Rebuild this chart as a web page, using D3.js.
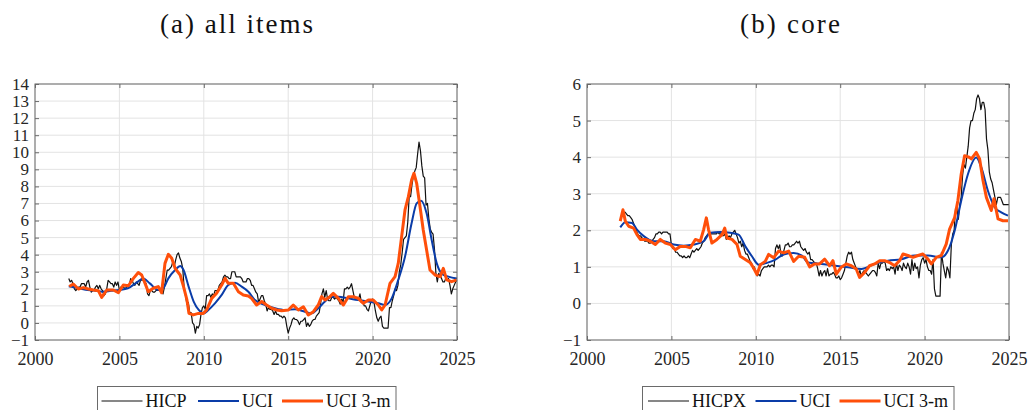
<!DOCTYPE html>
<html><head><meta charset="utf-8">
<script src="https://cdn.jsdelivr.net/npm/d3@7"></script>
<style>html,body{margin:0;padding:0;background:#fff;}svg{display:block;}
svg text{font-family:"Liberation Serif","DejaVu Serif","Times New Roman",serif !important;}</style>
</head><body><svg id="c" width="1028" height="410"></svg>
<script>
// ---------- DATA ----------
const xTicks = [2000, 2005, 2010, 2015, 2020, 2025];
const yTicksA = [-1,0,1,2,3,4,5,6,7,8,9,10,11,12,13,14];
const yTicksB = [-1,0,1,2,3,4,5,6];
const titleA = "(a) all items", titleB = "(b) core";
const legendA = ["HICP", "UCI", "UCI 3-m"];
const legendB = ["HICPX", "UCI", "UCI 3-m"];

// headline HICP, monthly, from Jan 2002
const hicpStart = 2002;
const hicp = [
 2.6,2.4,2.5,2.3,2.0,1.9,2.0,2.1,2.1,2.3,2.3,2.3,
 2.1,2.4,2.5,2.1,1.8,1.9,1.9,2.1,2.2,2.0,2.2,2.0,
 1.9,1.6,1.7,2.0,2.5,2.4,2.3,2.3,2.1,2.4,2.2,2.4,
 1.9,2.1,2.1,2.1,2.0,2.1,2.2,2.2,2.6,2.5,2.3,2.2,
 2.4,2.3,2.2,2.5,2.5,2.5,2.4,2.3,1.7,1.6,1.9,1.9,
 1.8,1.8,1.9,1.9,1.9,1.9,1.8,1.7,2.1,2.6,3.1,3.1,
 3.2,3.3,3.6,3.3,3.7,4.0,4.1,3.8,3.6,3.2,2.1,1.6,
 1.1,1.2,0.6,0.6,0.0,-0.1,-0.6,-0.2,-0.3,-0.1,0.5,0.9,
 1.0,0.8,1.6,1.6,1.7,1.5,1.7,1.6,1.9,1.9,1.9,2.2,
 2.3,2.4,2.7,2.8,2.7,2.7,2.6,2.6,3.0,3.0,3.0,2.7,
 2.7,2.7,2.7,2.6,2.4,2.4,2.4,2.6,2.6,2.5,2.2,2.2,
 2.0,1.8,1.7,1.2,1.4,1.6,1.6,1.3,1.1,0.7,0.9,0.8,
 0.8,0.7,0.5,0.7,0.5,0.5,0.4,0.4,0.3,0.4,0.3,-0.2,
 -0.6,-0.3,-0.1,0.2,0.3,0.2,0.2,0.1,-0.1,0.1,0.1,0.2,
 0.3,-0.2,0.0,-0.2,-0.1,0.1,0.2,0.2,0.4,0.5,0.6,1.1,
 1.7,2.0,1.5,1.9,1.4,1.3,1.3,1.5,1.5,1.4,1.5,1.4,
 1.3,1.1,1.4,1.2,2.0,2.0,2.1,2.0,2.1,2.3,1.9,1.5,
 1.4,1.5,1.4,1.7,1.2,1.3,1.0,1.0,0.8,0.7,1.0,1.3,
 1.4,1.2,0.7,0.3,0.1,0.3,0.4,-0.2,-0.3,-0.3,-0.3,-0.3,
 0.9,0.9,1.3,1.6,2.0,1.9,2.2,3.0,3.4,4.1,4.9,5.0,
 5.1,5.9,7.4,7.4,8.1,8.6,8.9,9.1,9.9,10.6,10.1,9.2,
 8.6,8.5,6.9,7.0,6.1,5.5,5.3,5.2,4.3,2.9,2.4,2.9,
 2.8,2.6,2.4,2.4,2.6,2.5,2.6,2.2,1.7,2.0,2.2,2.4,
 2.5
];

// UCI (all items)
const uciAYears = [2002.0,2002.5,2003.0,2003.5,2004.0,2004.5,2005.0,2005.5,2006.1,2006.4,2006.8,2007.3,2007.6,2007.9,2008.3,2008.6,2008.8,2009.1,2009.4,2009.7,2010.0,2010.27,2010.66,2011.06,2011.45,2011.85,2012.24,2012.64,2013.03,2013.62,2014.22,2014.81,2015.4,2015.99,2016.39,2016.78,2017.18,2017.57,2017.97,2018.56,2019.15,2019.75,2020.34,2020.74,2021.13,2021.52,2021.92,2022.31,2022.61,2022.87,2023.2,2023.5,2023.8,2024.09,2024.49,2025.0];
const uciAValues = [2.15,2.05,1.95,1.9,1.83,1.88,1.93,2.03,2.42,2.61,2.32,1.93,2.03,2.61,3.1,3.34,3.1,2.13,1.25,0.76,0.56,0.76,1.15,1.64,2.22,2.36,2.13,1.83,1.34,1.05,0.86,0.76,0.8,0.66,0.56,0.86,1.25,1.54,1.54,1.44,1.34,1.25,1.15,1.05,1.44,2.52,3.88,5.84,7.01,7.16,6.42,4.86,3.49,2.9,2.71,2.61];

// UCI 3-m (all items)
const uci3AYears = [2002.03,2002.27,2002.57,2002.86,2003.16,2003.46,2003.75,2003.95,2004.25,2004.64,2004.94,2005.23,2005.53,2005.83,2006.12,2006.32,2006.52,2006.71,2007.0,2007.3,2007.5,2007.7,2007.9,2008.1,2008.3,2008.6,2008.8,2009.0,2009.12,2009.38,2009.68,2009.97,2010.17,2010.47,2010.76,2011.06,2011.26,2011.45,2011.75,2012.05,2012.34,2012.64,2012.83,2013.13,2013.43,2013.72,2014.02,2014.32,2014.61,2015.01,2015.3,2015.6,2015.9,2016.19,2016.49,2016.78,2016.98,2017.18,2017.47,2017.67,2017.97,2018.27,2018.56,2018.86,2019.15,2019.45,2019.75,2020.04,2020.34,2020.54,2020.74,2021.03,2021.33,2021.52,2021.72,2021.92,2022.12,2022.31,2022.45,2022.61,2022.81,2023.0,2023.2,2023.4,2023.7,2024.0,2024.19,2024.39,2024.68,2024.98];
const uci3AValues = [2.13,2.28,1.99,2.07,1.99,1.93,1.89,1.5,1.93,1.93,1.77,2.22,2.18,2.61,2.95,2.81,2.32,1.83,2.03,2.13,1.77,3.49,4.02,3.79,3.2,2.81,2.13,1.35,0.56,0.47,0.56,0.56,0.76,1.44,1.74,2.22,2.61,2.32,2.32,1.83,1.64,1.58,1.44,1.05,1.25,1.05,0.86,0.76,0.72,0.76,1.05,0.76,0.95,0.47,0.66,1.05,1.54,1.34,1.54,1.73,1.44,1.05,1.54,1.54,1.44,1.15,1.34,1.34,1.05,0.76,1.05,2.32,2.71,3.49,5.06,6.62,7.4,8.38,8.77,8.18,6.81,5.45,4.27,3.1,2.81,2.71,3.2,2.52,2.42,2.52];

// core HICPX, monthly, from Mar 2002
const hicpxStart = 2002 + 2/12;
const hicpx = [
 2.5,2.5,2.45,2.4,2.4,2.35,2.3,2.2,2.1,2.0,
 1.9,1.85,1.85,1.8,1.75,1.7,1.7,1.7,1.65,1.65,1.7,1.75,
 1.8,1.9,1.9,1.95,1.95,1.9,1.95,1.95,1.95,1.95,1.9,1.9,
 1.6,1.5,1.5,1.4,1.4,1.35,1.3,1.3,1.25,1.3,1.25,1.25,
 1.3,1.25,1.35,1.45,1.4,1.45,1.5,1.45,1.5,1.55,1.65,1.7,
 1.8,1.85,1.9,1.9,1.9,1.9,1.9,1.9,1.9,1.95,1.9,1.9,
 1.85,1.85,1.9,1.75,1.8,1.85,1.8,1.9,1.95,2.0,1.9,1.8,
 1.65,1.7,1.55,1.65,1.45,1.35,1.35,1.25,1.15,1.1,0.95,1.0,
 0.85,0.75,0.8,0.75,0.9,0.95,1.0,1.0,1.0,1.05,1.0,1.05,
 1.05,1.0,1.5,1.6,1.5,1.6,1.3,1.3,1.45,1.6,1.6,1.65,
 1.55,1.55,1.6,1.6,1.65,1.7,1.65,1.7,1.55,1.5,1.45,1.5,
 1.4,1.35,1.4,1.2,1.2,1.15,1.1,1.1,0.95,0.75,0.9,0.75,
 0.85,0.9,0.75,0.95,0.75,0.8,0.8,0.85,0.8,0.7,0.7,0.75,
 0.65,0.7,0.8,0.9,1.1,1.3,1.4,1.35,1.4,1.2,1.1,1.0,
 0.9,0.8,0.9,0.75,0.85,0.9,0.85,0.8,0.75,0.8,0.85,0.9,
 0.9,0.85,0.75,1.1,0.95,1.1,1.1,1.15,1.1,0.9,0.95,0.9,
 1.0,0.95,1.0,0.8,1.1,0.9,1.05,1.0,0.9,1.1,1.0,0.95,
 1.1,1.0,0.8,1.2,0.9,1.1,0.95,1.0,0.7,1.05,1.2,1.25,
 1.1,1.2,1.0,0.9,0.9,0.8,1.2,0.4,0.2,0.2,0.2,0.2,
 1.4,1.1,0.9,0.7,1.0,0.9,0.7,1.6,1.9,2.0,2.6,2.6,
 2.3,2.7,2.9,3.5,3.8,3.7,4.0,4.3,4.8,5.0,5.0,5.2,
 5.3,5.6,5.7,5.6,5.3,5.5,5.5,5.3,4.5,4.2,3.6,3.4,
 3.3,3.1,2.9,2.7,2.9,2.9,2.9,2.8,2.7,2.7,2.7,2.7,
 2.7
];

// UCI (core)
const uciBYears = [2001.97,2002.27,2002.67,2002.96,2003.36,2003.95,2004.54,2005.13,2005.73,2006.32,2006.91,2007.3,2007.9,2008.49,2008.98,2009.38,2009.77,2010.17,2010.66,2011.16,2011.65,2012.24,2012.73,2013.09,2013.88,2014.67,2015.46,2016.25,2017.04,2017.83,2018.62,2019.41,2020.2,2020.99,2021.38,2021.78,2022.17,2022.57,2023.06,2023.36,2023.75,2024.15,2024.54,2024.94];
const uciBValues = [2.08,2.22,2.2,2.02,1.84,1.7,1.7,1.61,1.58,1.61,1.7,1.93,1.95,1.93,1.88,1.56,1.29,1.06,1.11,1.2,1.34,1.38,1.31,1.12,1.08,1.03,0.99,0.94,1.08,1.17,1.21,1.31,1.31,1.26,1.44,1.99,2.81,3.54,3.99,3.72,3.08,2.63,2.49,2.4];

// UCI 3-m (core)
const uci3BYears = [2001.97,2002.13,2002.27,2002.47,2002.76,2002.96,2003.16,2003.46,2003.75,2004.05,2004.34,2004.64,2004.94,2005.23,2005.53,2005.83,2006.12,2006.42,2006.71,2006.91,2007.07,2007.2,2007.4,2007.7,2008.0,2008.16,2008.29,2008.59,2008.89,2009.08,2009.38,2009.68,2009.87,2010.07,2010.27,2010.56,2010.76,2011.06,2011.35,2011.65,2011.95,2012.24,2012.54,2012.9,2013.19,2013.48,2013.78,2014.08,2014.37,2014.57,2014.77,2015.06,2015.36,2015.66,2015.95,2016.15,2016.45,2016.74,2017.04,2017.34,2017.63,2017.93,2018.22,2018.52,2018.72,2019.01,2019.31,2019.61,2019.9,2020.2,2020.4,2020.69,2020.99,2021.28,2021.48,2021.78,2021.97,2022.17,2022.37,2022.67,2022.77,2023.06,2023.26,2023.46,2023.66,2023.95,2024.11,2024.35,2024.64,2024.94];
const uci3BValues = [2.25,2.56,2.25,2.11,2.06,1.88,1.75,1.75,1.7,1.61,1.75,1.65,1.61,1.47,1.56,1.56,1.52,1.75,1.7,2.02,2.34,2.02,1.65,1.75,1.88,2.06,1.79,1.75,1.61,1.29,1.2,1.11,0.97,0.79,1.06,1.15,1.34,1.25,1.43,1.38,1.43,1.15,1.29,1.26,1.0,1.08,1.08,1.21,1.03,1.17,0.8,0.99,1.08,1.03,0.94,0.71,0.85,1.03,1.08,1.17,1.17,1.12,1.03,1.17,1.35,1.31,1.26,1.31,1.35,1.21,1.08,1.26,1.31,1.62,2.03,2.35,2.81,3.54,4.04,3.99,3.95,4.13,3.95,3.36,2.9,2.54,2.86,2.31,2.26,2.26];

// ---------- DRAW ----------
const svg = d3.select("#c");
const FONT = '"Liberation Serif", "DejaVu Serif", serif';
const C_BLACK = "#111", C_BLUE = "#0a3ca8", C_ORANGE = "#ff4f0a";

function panel(opt) {
  const x = d3.scaleLinear().domain([2000, 2025]).range([opt.left, opt.right]);
  const y = d3.scaleLinear().domain(opt.yDomain).range([opt.bottom, opt.top]);
  const g = svg.append("g");

  // grid
  g.append("g").selectAll("line").data(opt.yTicks).join("line")
    .attr("x1", opt.left).attr("x2", opt.right)
    .attr("y1", d => y(d)).attr("y2", d => y(d))
    .attr("stroke", "#e3e3e3").attr("stroke-width", 1);
  g.append("g").selectAll("line").data(xTicks).join("line")
    .attr("y1", opt.top).attr("y2", opt.bottom)
    .attr("x1", d => x(d)).attr("x2", d => x(d))
    .attr("stroke", "#e3e3e3").attr("stroke-width", 1);

  // series
  const monthly = (arr, start) => arr.map((v, i) => [start + i / 12, v]);
  const pairs = (ys, vs) => ys.map((t, i) => [t, vs[i]]);
  const line = d3.line().x(d => x(d[0])).y(d => y(d[1]));
  const smooth = d3.line().x(d => x(d[0])).y(d => y(d[1])).curve(d3.curveMonotoneX);

  g.append("path").datum(monthly(opt.black, opt.blackStart))
    .attr("d", line).attr("fill", "none").attr("stroke", C_BLACK)
    .attr("stroke-width", 1.2).attr("stroke-linejoin", "round");
  g.append("path").datum(pairs(opt.blueY, opt.blueV))
    .attr("d", smooth).attr("fill", "none").attr("stroke", C_BLUE)
    .attr("stroke-width", 2);
  g.append("path").datum(pairs(opt.orY, opt.orV))
    .attr("d", line).attr("fill", "none").attr("stroke", C_ORANGE)
    .attr("stroke-width", 3).attr("stroke-linejoin", "round");

  // axes (box with inward ticks)
  const ax = g.append("g").attr("stroke", "#6a6a6a").attr("stroke-width", 1);
  ax.append("rect").attr("x", opt.left).attr("y", opt.top)
    .attr("width", opt.right - opt.left).attr("height", opt.bottom - opt.top)
    .attr("fill", "none");
  const yAxL = d3.axisLeft(y).tickValues(opt.yTicks).tickSize(-4).tickFormat(d3.format("d"));
  const yAxR = d3.axisRight(y).tickValues(opt.yTicks).tickSize(-4).tickFormat("");
  const xAxB = d3.axisBottom(x).tickValues(xTicks).tickSize(-4).tickFormat(d3.format("d"));
  const xAxT = d3.axisTop(x).tickValues(xTicks).tickSize(-4).tickFormat("");
  const style = sel => {
    sel.attr("font-family", FONT).attr("font-size", 17);
    sel.select(".domain").remove();
    sel.selectAll(".tick line").attr("stroke", "#6a6a6a");
    sel.selectAll(".tick text").attr("fill", "#262626");
  };
  g.append("g").attr("transform", `translate(${opt.left},0)`).call(yAxL).call(style)
    .selectAll(".tick text").attr("x", -6);
  g.append("g").attr("transform", `translate(${opt.right},0)`).call(yAxR).call(style);
  g.append("g").attr("transform", `translate(0,${opt.bottom})`).call(xAxB).call(style)
    .selectAll(".tick text").attr("y", 12).attr("font-size", 18);
  g.append("g").attr("transform", `translate(0,${opt.top})`).call(xAxT).call(style);

  // title
  svg.append("text").attr("x", opt.titleX).attr("y", 33)
    .attr("text-anchor", "middle").attr("fill", "#111")
    .attr("font-family", FONT).attr("font-size", 27)
    .attr("textLength", opt.titleLen).attr("lengthAdjust", "spacing")
    .text(opt.title);

  // legend
  const lg = svg.append("g").attr("font-family", FONT).attr("font-size", 18);
  lg.append("rect").attr("x", opt.lgX).attr("y", 386.5)
    .attr("width", opt.lgW).attr("height", 40)
    .attr("fill", "#fff").attr("stroke", "#6a6a6a").attr("stroke-width", 1);
  const cols = [C_BLACK, C_BLUE, C_ORANGE], widths = [1.2, 2, 3];
  opt.legend.forEach((name, i) => {
    const lx = opt.lgItems[i];
    lg.append("line").attr("x1", lx).attr("x2", lx + 41)
      .attr("y1", 401).attr("y2", 401)
      .attr("stroke", cols[i]).attr("stroke-width", widths[i]);
    lg.append("text").attr("x", lx + 44).attr("y", 406.5)
      .attr("fill", "#111").text(name);
  });
}

panel({left: 35, right: 457, top: 84, bottom: 340, yDomain: [-1, 14], yTicks: yTicksA,
  black: hicp, blackStart: hicpStart, blueY: uciAYears, blueV: uciAValues, orY: uci3AYears, orV: uci3AValues,
  title: titleA, titleX: 236.5, titleLen: 153, legend: legendA,
  lgX: 97.5, lgW: 298.5, lgItems: [101.5, 198, 282]});
panel({left: 587, right: 1009, top: 84, bottom: 340, yDomain: [-1, 6], yTicks: yTicksB,
  black: hicpx, blackStart: hicpxStart, blueY: uciBYears, blueV: uciBValues, orY: uci3BYears, orV: uci3BValues,
  title: titleB, titleX: 790, titleLen: 100, legend: legendB,
  lgX: 642.5, lgW: 311.5, lgItems: [648, 755.5, 839.5]});
</script></body></html>
